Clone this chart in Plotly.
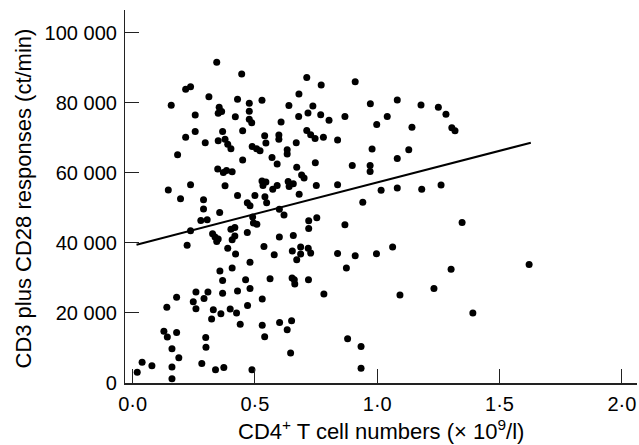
import plotly.graph_objects as go

# CD4+ T cell numbers (x 10^9/l)
cd4 = [
    0.344, 0.446, 0.217, 0.237, 0.312, 0.158, 0.429, 0.477, 0.354, 0.364,
    0.350, 0.256, 0.477, 0.420, 0.477, 0.487, 0.256, 0.368, 0.450, 0.217,
    0.297, 0.350, 0.378, 0.389, 0.402, 0.489, 0.184, 0.450, 0.348, 0.371,
    0.384, 0.407, 0.237, 0.146, 0.378, 0.196, 0.290, 0.429, 0.469, 0.480,
    0.290, 0.356, 0.279, 0.305, 0.237, 0.402, 0.418, 0.327, 0.337, 0.350,
    0.344, 0.418, 0.407, 0.469, 0.223, 0.389, 0.421, 0.480, 0.357, 0.407,
    0.491, 0.494, 0.508, 0.368, 0.462, 0.259, 0.308, 0.180, 0.292, 0.248,
    0.368, 0.429, 0.480, 0.140, 0.259, 0.470, 0.330, 0.361, 0.399, 0.425,
    0.323, 0.440, 0.128, 0.142, 0.180, 0.299, 0.161, 0.300, 0.189, 0.039,
    0.079, 0.161, 0.283, 0.019, 0.339, 0.373, 0.161, 0.488,
    0.712, 0.771, 0.910, 0.680, 0.529, 0.639, 0.737, 0.972, 0.717, 0.679,
    0.769, 0.803, 0.868, 0.998, 0.607, 0.712, 0.728, 0.746, 0.780, 0.838,
    0.540, 0.545, 0.598, 0.598, 0.669, 0.507, 0.521, 0.632, 0.632, 0.979,
    0.570, 0.591, 0.747, 0.671, 0.898, 0.971, 0.971, 0.691, 0.701, 0.529,
    0.545, 0.533, 0.591, 0.573, 0.636, 0.657, 0.640, 0.751, 0.838, 0.681,
    0.500, 0.541, 0.548, 0.941, 0.600, 0.619, 0.720, 0.720, 0.753, 0.868,
    1.016, 0.600, 0.657, 0.537, 0.579, 0.653, 0.687, 0.687, 0.718, 0.728,
    0.671, 0.838, 0.910, 0.997, 0.874, 0.562, 0.652, 0.661, 0.663, 0.719,
    0.530, 0.782, 0.530, 0.540, 0.601, 0.650, 0.632, 0.646, 0.879, 0.934,
    0.934, 1.082, 1.179, 1.250, 1.281, 1.041, 1.142, 1.305, 1.318, 1.129,
    1.082, 1.082, 1.182, 1.261, 1.347, 1.063, 1.302, 1.093, 1.232, 1.391,
    1.621,
]

# CD3 plus CD28 responses, thousands of ct/min
resp_thousands = [
    91.6, 88.2, 83.9, 84.6, 81.7, 79.3, 81.0, 79.9, 78.7, 77.5,
    77.0, 76.5, 77.6, 76.0, 75.3, 74.3, 71.8, 71.8, 72.0, 70.2,
    68.6, 69.2, 69.6, 68.2, 66.9, 67.5, 65.2, 63.7, 61.1, 60.1,
    60.7, 60.3, 56.6, 55.1, 56.3, 52.6, 52.3, 53.5, 51.5, 50.6,
    49.7, 48.7, 46.4, 46.6, 43.5, 43.9, 44.4, 42.6, 41.7, 41.1,
    40.4, 42.0, 40.9, 43.0, 39.3, 38.5, 36.8, 34.5, 32.0, 32.8,
    47.4, 45.7, 45.3, 29.3, 29.5, 26.0, 26.0, 24.5, 24.1, 23.2,
    25.6, 26.3, 27.0, 21.6, 21.2, 22.1, 20.9, 19.8, 21.1, 20.0,
    18.3, 16.8, 14.8, 13.1, 14.4, 13.0, 9.8, 10.2, 7.2, 5.9,
    4.9, 4.6, 5.6, 3.1, 3.8, 4.4, 1.2, 3.8,
    87.2, 85.1, 86.0, 82.5, 80.7, 79.2, 79.1, 79.7, 77.1, 76.1,
    76.6, 75.0, 76.1, 73.8, 74.5, 72.1, 70.9, 69.8, 70.2, 69.4,
    70.6, 68.5, 70.8, 69.6, 68.6, 66.9, 66.3, 66.6, 65.4, 66.8,
    64.4, 62.5, 62.9, 61.6, 62.1, 62.1, 60.4, 59.4, 58.5, 57.7,
    57.4, 56.4, 56.4, 55.3, 57.5, 56.9, 56.1, 56.4, 56.6, 53.9,
    53.5, 53.2, 51.5, 51.6, 49.6, 48.0, 46.3, 44.1, 47.2, 45.2,
    55.0, 41.7, 42.1, 39.0, 36.6, 37.7, 38.8, 36.8, 38.5, 37.1,
    35.2, 37.0, 36.3, 36.9, 32.8, 29.8, 30.0, 29.5, 28.3, 29.5,
    24.0, 25.4, 16.5, 13.2, 17.3, 17.8, 15.2, 8.6, 12.6, 10.4,
    4.2, 80.8, 79.4, 78.7, 76.7, 76.1, 73.0, 72.9, 72.0, 66.6,
    64.1, 55.7, 55.3, 56.5, 45.8, 38.8, 32.5, 25.1, 27.0, 20.0,
    33.8,
]
resp = [v * 1000 for v in resp_thousands]

# Regression line end points
fit_x = [0.016, 1.628]
fit_y = [39500, 68600]

x_tickvals = [0.0, 0.5, 1.0, 1.5, 2.0]
x_ticktext = ["0·0", "0·5", "1·0", "1·5", "2·0"]
y_tickvals = [0, 20000, 40000, 60000, 80000, 100000]
y_ticktext = ["0", "20 000", "40 000", "60 000", "80 000", "100 000"]

x_title = "CD4<sup>+</sup> T cell numbers (× 10<sup>9</sup>/l)"
y_title = "CD3 plus CD28 responses (ct/min)"

FONT = "Liberation Sans, Arial, Helvetica, sans-serif"

fig = go.Figure()
fig.add_trace(go.Scatter(
    x=fit_x, y=fit_y, mode="lines",
    line=dict(color="black", width=2), showlegend=False, hoverinfo="skip",
))
fig.add_trace(go.Scatter(
    x=cd4, y=resp, mode="markers",
    marker=dict(color="black", size=7, line=dict(width=0)),
    showlegend=False,
))

fig.update_layout(
    width=639, height=445,
    margin=dict(l=125, r=2, t=10, b=62),
    paper_bgcolor="white", plot_bgcolor="white",
    font=dict(family=FONT, size=20, color="black"),
    xaxis=dict(
        range=[-0.031, 2.062], tickvals=x_tickvals, ticktext=x_ticktext,
        ticks="inside", ticklen=14, tickwidth=1.2, tickcolor="#222",
        showline=True, linecolor="#222", linewidth=1.5,
        showgrid=False, zeroline=False, mirror=False,
        ticklabelstandoff=2,
        tickfont=dict(size=20),
    ),
    yaxis=dict(
        range=[0, 106500], tickvals=y_tickvals, ticktext=y_ticktext,
        ticks="inside", ticklen=14, tickwidth=1.2, tickcolor="#222",
        showline=True, linecolor="#222", linewidth=1.2,
        showgrid=False, zeroline=False, mirror=False,
        ticklabelstandoff=3,
        tickfont=dict(size=20),
    ),
    annotations=[
        dict(text=x_title, xref="paper", yref="paper", x=0.5, y=0,
             xanchor="center", yanchor="middle", yshift=-47,
             showarrow=False, font=dict(size=22)),
        dict(text=y_title, xref="paper", yref="paper", x=0, y=0.5,
             xanchor="center", yanchor="middle", xshift=-102, yshift=-2,
             textangle=-90, showarrow=False, font=dict(size=22)),
    ],
)

fig.write_html("out.html", config={"displayModeBar": False},
               post_script="document.body.style.margin='0';")
